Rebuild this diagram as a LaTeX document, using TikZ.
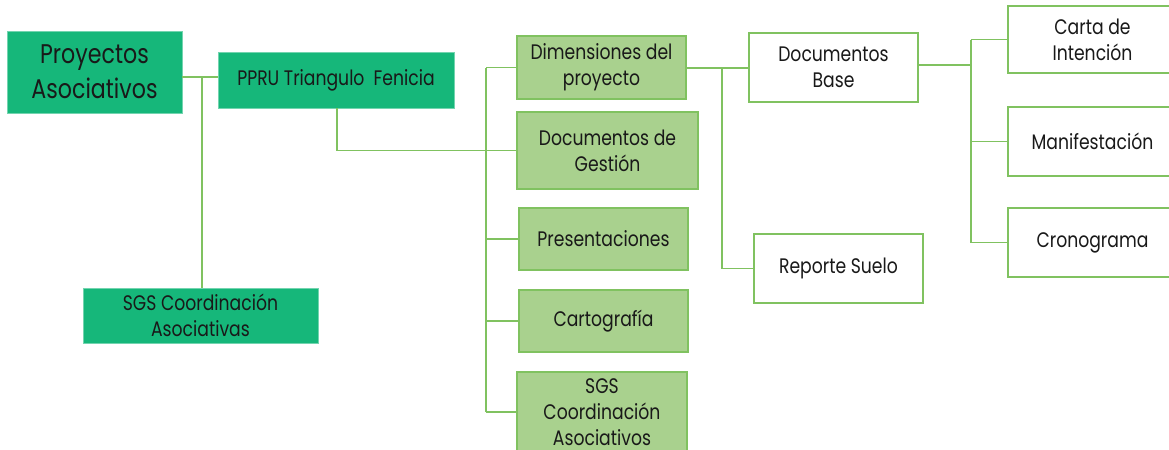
\documentclass[tikz,border=0pt]{standalone}
\usepackage{fontspec}
\setmainfont{Poppins}[FakeStretch=0.82]
\definecolor{tealgreen}{RGB}{22,183,122}
\definecolor{leafgreen}{RGB}{169,209,142}
\definecolor{linegreen}{RGB}{128,194,96}
\begin{document}
\begin{tikzpicture}[x=0.5pt, y=-0.5pt,
    darkbox/.style={fill=tealgreen, draw=tealgreen!60!white, line width=0.4pt, align=center, inner sep=0pt},
    lightbox/.style={fill=leafgreen, draw=linegreen, line width=0.8pt, align=center, inner sep=0pt},
    whitebox/.style={fill=white, draw=linegreen, line width=0.8pt, align=center, inner sep=0pt},
    link/.style={draw=linegreen, line width=0.8pt},
    every node/.style={font=\fontsize{10.5}{13}\selectfont, text=black!90}]
        \useasboundingbox (0,0) rectangle (1169,450);
        \clip (0,0) rectangle (1169,450);

        \node[darkbox, minimum width=87.5pt, minimum height=41pt, font=\fontsize{13.5}{17.5}\selectfont] (proy) at (94.5,72) {Proyectos\\Asociativos};
        \node[darkbox, minimum width=118pt, minimum height=28pt] (ppru) at (336,80) {PPRU Triangulo\ \ Fenicia};
        \node[darkbox, minimum width=117.5pt, minimum height=27.5pt] (sgsa) at (200.5,315.5) {SGS Coordinación\\Asociativas};

        \node[lightbox, minimum width=84.5pt, minimum height=31.5pt] (dim) at (601.5,67.5) {Dimensiones del\\proyecto};
        \node[lightbox, minimum width=90.5pt, minimum height=38.5pt] (gest) at (607.5,150.5) {Documentos de\\Gestión};
        \node[lightbox, minimum width=84.5pt, minimum height=31pt] (pres) at (603.5,239) {Presentaciones};
        \node[lightbox, minimum width=84.5pt, minimum height=31pt] (carto) at (603.5,321) {Cartografía};
        \node[lightbox, minimum width=85pt, minimum height=40pt] (sgsc) at (602,412) {SGS\\Coordinación\\Asociativos};

        \node[whitebox, minimum width=84.5pt, minimum height=34.5pt] (base) at (833.5,67.5) {Documentos\\Base};
        \node[whitebox, minimum width=84.5pt, minimum height=34.5pt] (suelo) at (838.5,268.5) {Reporte Suelo};

        \node[whitebox, minimum width=84.5pt, minimum height=33.5pt] (carta) at (1092.5,39.5) {Carta de\\Intención};
        \node[whitebox, minimum width=84.5pt, minimum height=34.5pt] (manif) at (1092.5,141.5) {Manifestación};
        \node[whitebox, minimum width=84.5pt, minimum height=34.5pt] (crono) at (1092.5,242.5) {Cronograma};

        \coordinate (j1) at (202,77);   % joint under the first two boxes
        \coordinate (j2) at (486,150);  % trunk of the green column
        \coordinate (j3) at (722,68);
        \coordinate (j4) at (971,65);

        \draw[link] (proy.east |- j1) -- (ppru.west |- j1);
        \draw[link] (j1) -- (sgsa.north -| j1);

        \draw[link] (ppru.south -| 337,0) |- (gest.west);
        \draw[link] (j2 |- dim.west) -- (j2 |- sgsc.west);
        \draw[link] (j2 |- dim.west) -- (dim.west);
        \draw[link] (j2 |- pres.west) -- (pres.west);
        \draw[link] (j2 |- carto.west) -- (carto.west);
        \draw[link] (j2 |- sgsc.west) -- (sgsc.west);

        \draw[link] (dim.east |- j3) -- (base.west |- j3);
        \draw[link] (j3) |- (suelo.west);

        \draw[link] (base.east |- j4) -- (j4);
        \draw[link] (j4 |- carta.west) -- (j4 |- crono.west);
        \draw[link] (j4 |- carta.west) -- (carta.west);
        \draw[link] (j4 |- manif.west) -- (manif.west);
        \draw[link] (j4 |- crono.west) -- (crono.west);
    \end{tikzpicture}
\end{document}
